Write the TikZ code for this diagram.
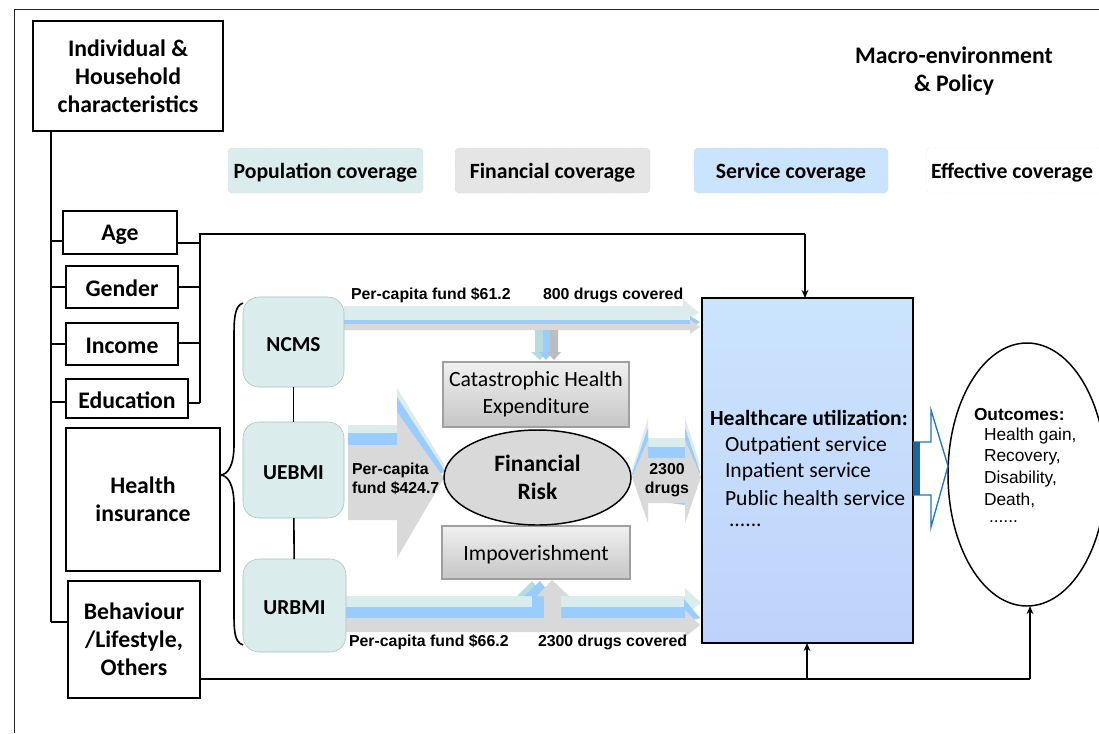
\documentclass[tikz,border=0pt]{standalone}
\usepackage{fontspec}
\setmainfont{Carlito}
\newfontfamily\arialf{Liberation Sans}
\usetikzlibrary{shapes.geometric,arrows.meta,calc}
\definecolor{teal1}{HTML}{DAECEC}
\definecolor{teal2}{HTML}{B7DCDC}
\definecolor{blue1}{HTML}{99CCFF}
\definecolor{gray1}{HTML}{D9D9D9}
\definecolor{gray2}{HTML}{BDBDBD}
\definecolor{svc}{HTML}{CBE4FD}
\definecolor{svcb}{HTML}{BFD3FA}
\definecolor{dk}{HTML}{1F77C0}
\newcommand{\pbox}[7]{\node[#1,minimum width={(#4-#2)*0.75pt},minimum height={(#5-#3)*0.75pt},inner sep=0pt,outer sep=0pt,align=center] (#6) at ({(#2+#4)/2},{(#3+#5)/2}) {#7};}
\newcommand{\dn}[1]{\rule{0pt}{#1pt}\ignorespaces}
\tikzset{
  blk/.style={draw=black,line width=1.5pt,fill=white,font=\fontsize{17.8}{21}\selectfont\bfseries,execute at begin node=\dn{15}},
  cov/.style={rounded corners=3pt,draw=gray!50,densely dotted,line width=.3pt,font=\fontsize{16.3}{18}\selectfont\bfseries,execute at begin node=\dn{15}},
  prog/.style={rounded corners=12pt,fill=teal1,draw=teal2!70!gray,line width=.4pt,font=\fontsize{16}{18}\selectfont\bfseries,execute at begin node=\dn{14}},
  riskbox/.style={draw=gray!75,line width=.8pt,top color=gray!12,bottom color=gray!45,font=\fontsize{16.3}{20}\selectfont,execute at begin node=\dn{15}},
  conn/.style={line width=1.2pt,draw=black},
  small/.style={font=\arialf\fontsize{11.9}{14}\selectfont\bfseries,inner sep=0pt,outer sep=0pt},
  plain/.style={inner sep=0pt,outer sep=0pt},
  tip/.style={-{Stealth[length=6pt,width=5pt]}}
}
\begin{document}
\begin{tikzpicture}[x=0.75pt,y=-0.75pt]
\useasboundingbox (0,0) rectangle (1099,733);
\fill[white] (0,0) rectangle (1099,733);
% frame
\coordinate (f1) at (14,733); \coordinate (f2) at (14,9); \coordinate (f3) at (1099,9);
\draw[line width=.7pt,black!85] (f1) -- (f2) -- (f3);
% coverage legend
\pbox{cov,fill=teal1}{228}{148}{423}{193}{cp}{Population coverage}
\pbox{cov,fill=gray!20}{455}{148}{650}{193}{cf}{Financial coverage}
\pbox{cov,fill=svc}{694}{148}{888}{193}{cs}{Service coverage}
\pbox{cov,draw=gray!45}{926}{148}{1106}{193}{ce}{\hspace*{-6pt}Effective coverage}
\node[plain,align=center,font=\fontsize{17.8}{21}\selectfont\bfseries] (macro) at (954,71) {Macro-environment\\\& Policy};
% trunk
\coordinate (tt) at (51,131); \coordinate (t1) at (51,241); \coordinate (t2) at (51,287); \coordinate (t3) at (51,344); \coordinate (t4) at (51,402); \coordinate (t5) at (51,622);
% right collector
\coordinate (c0) at (200,234); \coordinate (c1) at (200,243); \coordinate (c2) at (200,287); \coordinate (c3) at (200,343); \coordinate (c4) at (200,403);
% arrows: NCMS
\fill[teal1] (344,306) -- (683,306) -- (683,299) -- (699,313) -- (683,322) -- (344,322) -- cycle;
\fill[blue1] (344,320) -- (690,320) -- (690,316) -- (700,322) -- (690,328) -- (344,328) -- cycle;
\fill[gray1] (344,324) -- (690,324) -- (690,319.5) -- (700,327) -- (690,334) -- (690,330) -- (344,330) -- cycle;
% down arrows
\fill[teal2] (535,330) -- (543,330) -- (543,352) -- (547,352) -- (540,360) -- (531,352) -- (535,352) -- cycle;
\fill[blue1] (543,330) -- (550,330) -- (550,352) -- (553,352) -- (546,360) -- (539,352) -- (543,352) -- cycle;
\fill[gray2] (550,330) -- (558,330) -- (558,352) -- (561,352) -- (554,360) -- (547,352) -- (550,352) -- cycle;
% arrows: UEBMI
\fill[teal1] (348,425) -- (397,425) -- (397,388) -- (445,466) -- (397,500) -- (348,500) -- cycle;
\fill[blue1] (348,433) -- (397,433) -- (397,397) -- (445,471) -- (397,500) -- (348,500) -- cycle;
\fill[gray1] (348,445) -- (397,445) -- (397,412) -- (444,478) -- (397,558) -- (397,520) -- (348,520) -- cycle;
% double arrow 2300 drugs
\fill[teal1] (648,438) -- (648,418) -- (632,470) -- (648,500) -- (685,500) -- (685,418) -- (700,465) -- (685,500) -- (685,438) -- cycle;
\fill[blue1] (648,447) -- (648,428) -- (632,474) -- (648,500) -- (685,505) -- (685,428) -- (700,472) -- (685,505) -- (685,447) -- cycle;
\fill[gray1] (632,477) -- (648,440) -- (648,458) -- (685,458) -- (685,440) -- (701,477) -- (685,523) -- (685,503) -- (648,503) -- (648,523) -- cycle;
% arrows: URBMI
\fill[teal2] (517,596) -- (532,581) -- (538,588) -- (530,598) -- cycle;
\fill[teal1] (346,596) -- (532,596) -- (532,607) -- (346,607) -- cycle;
\fill[blue1] (524,596) -- (540,581) -- (547,590) -- (544,596) -- (544,618) -- (346,618) -- (346,607) -- (532,607) -- (532,596) -- cycle;
\fill[teal1] (561,596) -- (685,596) -- (685,588) -- (701,603) -- (685,615) -- (561,615) -- cycle;
\fill[blue1] (561,607) -- (684,607) -- (684,599) -- (700,618) -- (685,622) -- (561,622) -- cycle;
\fill[gray1] (346,618) -- (544,618) -- (544,596) -- (537,596) -- (552,580) -- (569,596) -- (561,596) -- (561,618) -- (685,618) -- (685,610) -- (700,625) -- (685,637) -- (685,632) -- (346,632) -- cycle;
% programme nodes
\coordinate (b0) at (220,475); \coordinate (bt) at (243,303); \coordinate (bb) at (243,645);
\draw[conn] (bt) .. controls (234,306) and (234,320) .. (234,340) -- (234,445) .. controls (234,465) and (228,475) .. (b0) .. controls (228,475) and (234,485) .. (234,505) -- (234,610) .. controls (234,630) and (234,642) .. (bb);
\pbox{prog}{243}{297}{344}{387}{ncms}{NCMS}
\pbox{prog}{243}{422}{344}{518}{uebmi}{UEBMI}
\pbox{prog}{243}{559}{346}{652}{urbmi}{URBMI}
\draw[conn] (ncms) -- (uebmi);
\draw[conn] (uebmi) -- (urbmi);
% risk boxes
\pbox{riskbox}{443}{362}{629}{427}{che}{Catastrophic Health\\Expenditure}
\pbox{riskbox}{442}{526}{630}{579}{imp}{Impoverishment}
\node[ellipse,draw=black,line width=1.1pt,fill=gray1,minimum width={187*0.75pt},minimum height={95*0.75pt},inner sep=0pt,align=center,font=\fontsize{17.6}{21}\selectfont\bfseries] (risk) at (537.5,477.5) {Financial\\Risk};
% arrow labels
\node[small,anchor=west] (l1) at (351,295) {Per-capita fund \$61.2};
\node[small,anchor=west] (l2) at (543,295) {800 drugs covered};
\node[small,anchor=west,align=left] (l3) at (352,479) {Per-capita\\fund \$424.7};
\node[small,align=center] (l4) at (667,480) {2300\\drugs};
\node[small,anchor=west] (l5) at (349,642) {Per-capita fund \$66.2};
\node[small,anchor=west] (l6) at (538,642) {2300 drugs covered};
% healthcare
\pbox{draw=black,line width=1.5pt,top color=svc,bottom color=svcb}{702}{298}{913}{643}{hc}{}
\node[plain,anchor=west,font=\fontsize{16.2}{18}\selectfont\bfseries] (h0) at (710,418) {Healthcare utilization:};
\node[plain,anchor=west,font=\fontsize{16.2}{18}\selectfont] (h1) at (725,446) {Outpatient service};
\node[plain,anchor=west,font=\fontsize{16.2}{18}\selectfont] (h2) at (725,472) {Inpatient service};
\node[plain,anchor=west,font=\fontsize{16.2}{18}\selectfont] (h3) at (725,498) {Public health service};
\node[plain,anchor=west,font=\fontsize{16.2}{18}\selectfont] (h4) at (729,525) {......};
% outcomes
\node[ellipse,draw=black,line width=1.1pt,fill=white,minimum width={158*0.75pt},minimum height={263*0.75pt},inner sep=0pt] (out) at (1027,474.5) {};
\node[plain,anchor=west,font=\arialf\fontsize{13}{14}\selectfont\bfseries] (o0) at (974,415) {Outcomes:};
\node[plain,anchor=west,font=\arialf\fontsize{13}{14}\selectfont] (o1) at (984,436) {Health gain,};
\node[plain,anchor=west,font=\arialf\fontsize{13}{14}\selectfont] (o2) at (984,457) {Recovery,};
\node[plain,anchor=west,font=\arialf\fontsize{13}{14}\selectfont] (o3) at (984,479) {Disability,};
\node[plain,anchor=west,font=\arialf\fontsize{13}{14}\selectfont] (o4) at (984,500) {Death,};
\node[plain,anchor=west,font=\arialf\fontsize{13}{14}\selectfont] (o5) at (989,522) {......};
% block arrow
\draw[dk,line width=1pt,fill=white,line join=miter] (913,442) -- (931,442) -- (931,410) -- (948,466) -- (931,527) -- (931,495) -- (913,495);
\fill[dk!85!black] (913,442) rectangle (920,495);
% left boxes
\pbox{blk}{33}{21}{223}{131}{ind}{Individual \&\\Household\\characteristics}
\pbox{blk}{63}{211}{177}{254}{age}{Age}
\pbox{blk}{66}{266}{178}{308}{gen}{Gender}
\pbox{blk}{66}{323}{178}{365}{inc}{Income}
\pbox{blk}{66}{379}{188}{418}{edu}{Education}
\pbox{blk}{66}{428}{220}{571}{hi}{Health\\insurance}
\pbox{blk}{68}{581}{200}{698}{beh}{Behaviour\\/Lifestyle,\\Others}
% connectors
\draw[conn] (tt) -- (t5);
\draw[conn] (t1) -- (t1 -| age.west);
\draw[conn] (t2) -- (t2 -| gen.west);
\draw[conn] (t3) -- (t3 -| inc.west);
\draw[conn] (t4) -- (t4 -| edu.west);
\draw[conn] (t5) -- (t5 -| beh.west);
\draw[conn] (c1 -| age.east) -- (c1);
\draw[conn] (c2 -| gen.east) -- (c2);
\draw[conn] (c3 -| inc.east) -- (c3);
\draw[conn] (c4 -| edu.east) -- (c4);
\coordinate (top) at (805,234);
\draw[conn] (c4) -- (c0) -- (top);
\draw[conn,tip] (top) -- (top |- hc.north);
\coordinate (bl) at (807,679); \coordinate (br) at (1030,679);
\draw[conn] (beh.east |- bl) -- (br);
\draw[conn,tip] (bl) -- (bl |- hc.south);
\draw[conn,tip] (br) -- (1030,606);
\end{tikzpicture}
\end{document}
